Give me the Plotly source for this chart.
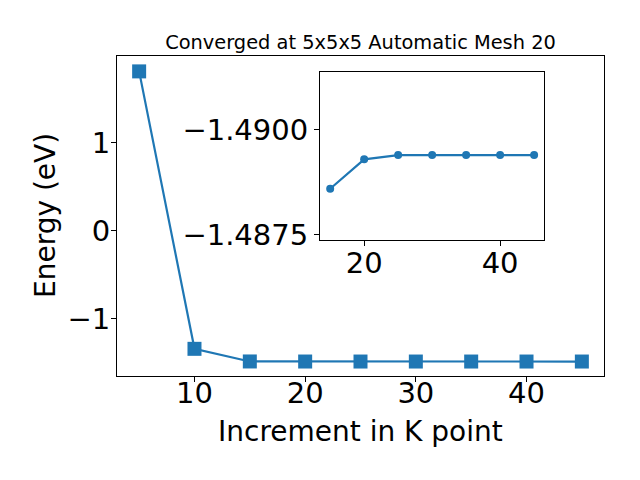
import plotly.graph_objects as go

# Data
kpoints = [5, 10, 15, 20, 25, 30, 35, 40, 45]
energy = [1.81, -1.345, -1.4886, -1.4893, -1.4894, -1.4894, -1.4894, -1.4894, -1.4894]
inset_k = kpoints[2:]
inset_e = energy[2:]

main_xticks = [10, 20, 30, 40]
main_yticks = [-1, 0, 1]
main_yticktext = ["\u22121", "0", "1"]
inset_xticks = [20, 40]
inset_yticks = [-1.49, -1.4875]
inset_yticktext = ["\u22121.4900", "\u22121.4875"]

blue = "#1f77b4"
font = "DejaVu Sans"
OFF = 8  # page body margin compensation

# plot area in window pixels
L, R, T, B = 117, 604, 56, 376
W, H = R - L, B - T

fig = go.Figure()
fig.add_trace(go.Scatter(x=kpoints, y=energy, mode="lines+markers",
                         line=dict(color=blue, width=2.2),
                         marker=dict(symbol="square", size=14, color=blue),
                         xaxis="x", yaxis="y", showlegend=False))
fig.add_trace(go.Scatter(x=inset_k, y=inset_e, mode="lines+markers",
                         line=dict(color=blue, width=2.2),
                         marker=dict(symbol="circle", size=8, color=blue),
                         xaxis="x2", yaxis="y2", showlegend=False))

axis_common = dict(showline=True, mirror=True, linecolor="black", linewidth=1,
                   ticks="outside", ticklen=5, tickwidth=1, tickcolor="black",
                   showgrid=False, zeroline=False,
                   tickfont=dict(family=font, size=29, color="black"))

fig.update_layout(
    width=640, height=480,
    margin=dict(l=L - OFF, r=640 - R + OFF, t=T - OFF, b=480 - B + OFF),
    paper_bgcolor="white", plot_bgcolor="white",
    font=dict(family=font, color="black"),
    title=dict(text="Converged at 5x5x5 Automatic Mesh 20",
               font=dict(family=font, size=19.4, color="black"),
               x=0.5, xref="paper", xanchor="center",
               y=1 - (42 - OFF) / 480, yref="container", yanchor="middle"),
    xaxis=dict(domain=[0, 1], range=[3, 47], tickvals=main_xticks,
               ticklabelstandoff=-14, **axis_common),
    yaxis=dict(domain=[0, 1], range=[-1.654, 1.985], tickvals=main_yticks,
               ticktext=main_yticktext, ticklabelstandoff=-5, **axis_common),
    xaxis2=dict(domain=[0.4168, 0.8774], range=[13.5, 46.5], tickvals=inset_xticks,
                anchor="y2", ticklabelstandoff=-8, **axis_common),
    yaxis2=dict(domain=[0.425, 0.949], range=[-1.48738, -1.49137],
                tickvals=inset_yticks, ticktext=inset_yticktext,
                anchor="x2", **axis_common),
)

fig.add_annotation(text="Increment in K point", xref="paper", yref="paper",
                   x=(360.5 - L) / W, y=(B - 431) / H, xanchor="center", yanchor="middle",
                   showarrow=False, font=dict(family=font, size=28, color="black"))
fig.add_annotation(text="Energy (eV)", xref="paper", yref="paper", textangle=-90,
                   x=(45 - L) / W, y=(B - 216) / H, xanchor="center", yanchor="middle",
                   showarrow=False, font=dict(family=font, size=28, color="black"))

fig.add_shape(type="rect", xref="x2 domain", yref="y2 domain", x0=0, x1=1, y0=0, y1=1,
              fillcolor="white", line=dict(width=0), layer="below")

fig.write_html("out.html")
